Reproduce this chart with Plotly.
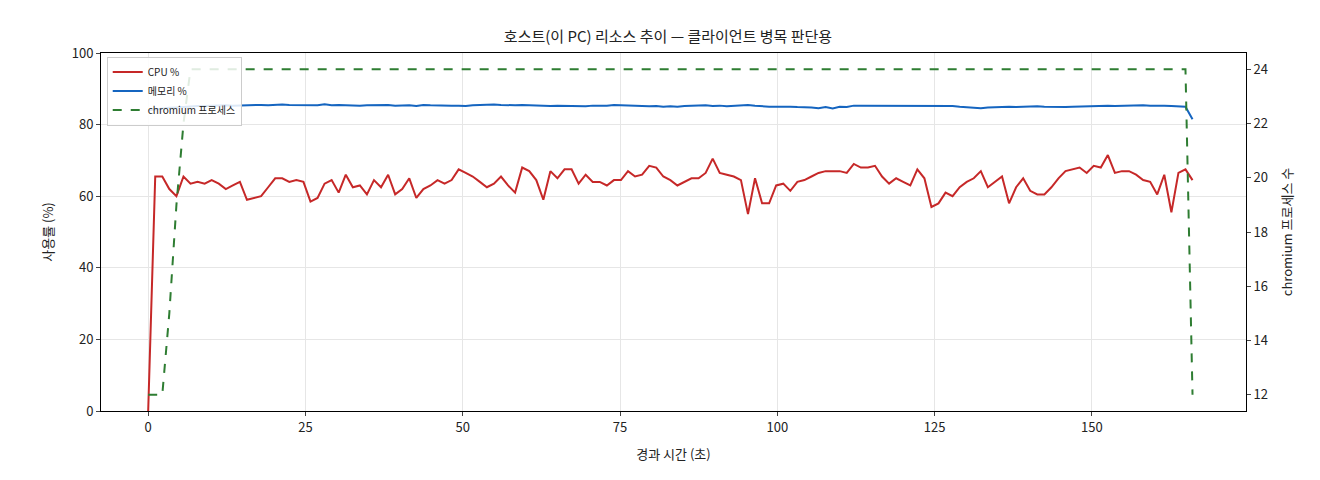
import plotly.graph_objects as go

cpu = [0, 65.5, 65.5, 62, 60, 65.5, 63.5, 64, 63.5, 64.5, 63.5, 62, 63, 64, 59, 59.5, 60, 62.5, 65, 65,
       64, 64.5, 64, 58.5, 59.5, 63.5, 64.5, 61, 66, 62.5, 63, 60.5, 64.5, 62.5, 66, 60.5, 62, 65, 59.5, 62,
       63, 64.5, 63.5, 64.5, 67.5, 66.5, 65.5, 64, 62.5, 63.5, 65.5, 63, 61, 68, 67, 64.5, 59, 67, 65, 67.5,
       67.5, 63.5, 66, 64, 64, 63, 64.5, 64.5, 67, 65.5, 66, 68.5, 68, 65.5, 64.5, 63, 64, 65, 65, 66.5,
       70.5, 66.5, 66, 65.5, 64.5, 55, 65, 58, 58, 63, 63.5, 61.5, 64, 64.5, 65.5, 66.5, 67, 67, 67, 66.5,
       69, 68, 68, 68.5, 65.5, 63.5, 65, 64, 63, 67.5, 65, 57, 58, 61, 60, 62.5, 64, 65, 67, 62.5,
       64, 65.5, 58, 62.5, 65, 61.5, 60.5, 60.5, 62.5, 65, 67, 67.5, 68, 66.5, 68.5, 68, 71.5, 66.5, 67, 67,
       66, 64.5, 64, 60.5, 66, 55.5, 66.5, 67.5, 64.5]

mem = [84, 84.3, 84.5, 84.7, 84.8, 85, 85.1, 85.2, 85.2, 85.3, 85.3, 85.4, 85.3, 85.4, 85.5, 85.4, 85.5, 85.4, 85.6, 85.6,
       85.5, 85.5, 85.4, 85.5, 85.4, 85.7, 85.4, 85.5, 85.4, 85.5, 85.3, 85.4, 85.5, 85.4, 85.5, 85.3, 85.4, 85.4, 85.2, 85.5,
       85.4, 85.3, 85.4, 85.3, 85.3, 85.2, 85.4, 85.5, 85.5, 85.6, 85.5, 85.4, 85.4, 85.5, 85.4, 85.3, 85.3, 85.2, 85.3, 85.2,
       85.3, 85.2, 85.1, 85.3, 85.2, 85.3, 85.5, 85.4, 85.3, 85.3, 85.2, 85.1, 85.2, 85.0, 85.1, 85.0, 85.2, 85.3, 85.3, 85.4,
       85.2, 85.3, 85.1, 85.2, 85.4, 85.5, 85.3, 85.1, 85.0, 85.0, 85.1, 85.0, 84.9, 84.9, 84.8, 84.6, 84.9, 84.5, 85.0, 84.9,
       85.3, 85.3, 85.3, 85.3, 85.3, 85.2, 85.2, 85.4, 85.3, 85.2, 85.3, 85.4, 85.4, 85.3, 85.2, 85.0, 84.9, 84.7, 84.6, 84.8,
       84.9, 85.0, 85.0, 84.9, 85.0, 84.9, 85.1, 85.0, 84.9, 84.8, 84.9, 85.0, 85.1, 85.2, 85.1, 85.2, 85.3, 85.2, 85.3, 85.3,
       85.4, 85.4, 85.3, 85.4, 85.3, 85.2, 85.1, 85.0, 81.5]

procs = [12, 12, 12, 15, 19, 22, 24] + [24] * 140 + [24, 12]

n = len(cpu)
t = [round(i * 166 / (n - 1), 2) for i in range(n)]

font = "Noto Sans CJK KR"
fig = go.Figure()
fig.add_trace(go.Scatter(x=t, y=cpu, name="CPU %", mode="lines", line=dict(color="#c62828", width=2)))
fig.add_trace(go.Scatter(x=t, y=mem, name="메모리 %", mode="lines", line=dict(color="#1565c0", width=2)))
fig.add_trace(go.Scatter(x=t, y=procs, name="chromium 프로세스", mode="lines", yaxis="y2",
                         line=dict(color="#2e7d32", width=2, dash="dash")))

fig.update_layout(
    width=1320, height=480,
    margin=dict(l=93, r=82, t=45, b=77),
    plot_bgcolor="white", paper_bgcolor="white",
    font=dict(family=font, size=13, color="#222"),
    title=dict(text="호스트(이 PC) 리소스 추이 — 클라이언트 병목 판단용", x=0.5, xanchor="center",
               y=0.94, yanchor="middle", font=dict(size=15)),
    xaxis=dict(title=dict(text="경과 시간 (초)", font=dict(size=13)), range=[-7.5, 174.5],
               tickvals=[0, 25, 50, 75, 100, 125, 150], automargin=False,
               showgrid=True, gridcolor="#e6e6e6", zeroline=False, showline=True, linecolor="black", mirror=True,
               ticks="outside", ticklen=4),
    yaxis=dict(title=dict(text="사용률 (%)", font=dict(size=13)), range=[0, 100], tickvals=[0, 20, 40, 60, 80, 100],
               automargin=False, showgrid=True, gridcolor="#e6e6e6", zeroline=False, showline=True,
               linecolor="black", ticks="outside", ticklen=4),
    yaxis2=dict(title=dict(text="chromium 프로세스 수", font=dict(size=13)), overlaying="y", side="right",
                range=[11.4, 24.6], automargin=False,
                tickvals=[12, 14, 16, 18, 20, 22, 24], showgrid=False, zeroline=False, showline=True,
                linecolor="black", ticks="outside", ticklen=4),
    legend=dict(x=0.005, y=0.99, xanchor="left", yanchor="top", bgcolor="rgba(255,255,255,0.85)",
                bordercolor="#cccccc", borderwidth=1, font=dict(size=10)),
    showlegend=True,
)

fig.write_html("out.html")
